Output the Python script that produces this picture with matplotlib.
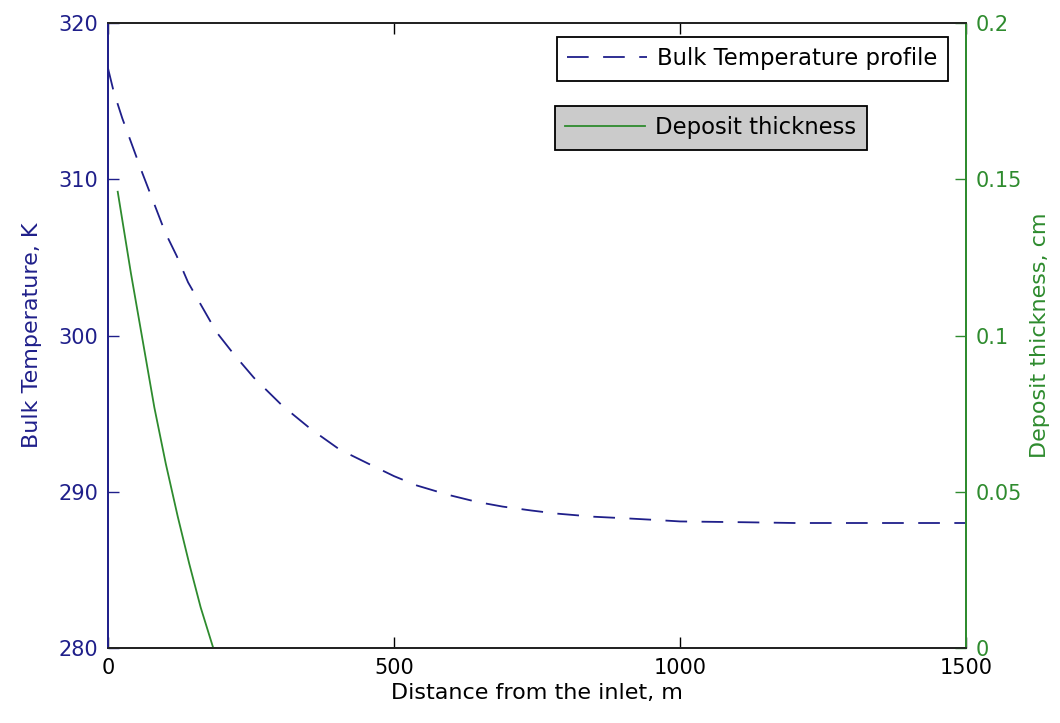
import numpy as np
import matplotlib.pyplot as plt
from matplotlib.lines import Line2D

plt.rcParams['font.family'] = ['DejaVu Sans']

# Bulk temperature along the line (K)
dist_T = [0, 10, 25, 40, 60, 80, 100, 120, 140, 165, 190, 220, 255, 305,
          355, 405, 455, 500, 540, 595, 645, 690, 740, 785, 850, 905, 955,
          1000, 1110, 1200, 1350, 1500]
temp_K = [317.1, 315.6, 313.9, 312.4, 310.4, 308.5, 306.6, 305.1, 303.4,
          301.8, 300.2, 298.8, 297.3, 295.5, 294.0, 292.7, 291.8, 291.0,
          290.4, 289.8, 289.35, 289.05, 288.8, 288.6, 288.4, 288.3, 288.2,
          288.1, 288.05, 288.0, 288.0, 288.0]

# Wax deposit thickness (cm)
dist_d = [17, 40, 61, 81, 101, 122, 142, 162, 184]
thick_cm = [0.146, 0.120, 0.098, 0.077, 0.059, 0.042, 0.027, 0.013, 0.0]

blue = '#1f1f8a'
green = '#2e8b2e'
dash = (12, 8)

fig = plt.figure(figsize=(10.6, 7.23), dpi=100)
ax1 = fig.add_axes([108/1060, 75/723, 858/1060, 625/723])
ax2 = ax1.twinx()

ax1.plot(dist_T, temp_K, color=blue, lw=1.3, dashes=dash)
ax2.plot(dist_d, thick_cm, color=green, lw=1.3)

ax1.set_xlim(0, 1500)
ax1.set_ylim(280, 320)
ax2.set_ylim(0, 0.2)
ax1.set_xticks([0, 500, 1000, 1500])
ax1.set_yticks([280, 290, 300, 310, 320])
ax2.set_yticks([0, 0.05, 0.1, 0.15, 0.2])
ax2.set_yticklabels(['0', '0.05', '0.1', '0.15', '0.2'])

ax1.tick_params(axis='x', direction='in', length=8, width=1, top=True,
                labelsize=15, pad=7, colors='black')
ax1.tick_params(axis='y', direction='in', length=8, width=1,
                labelsize=15, pad=7, colors=blue)
ax2.tick_params(axis='y', direction='in', length=8, width=1,
                labelsize=15, pad=7, colors=green)

for a in (ax1, ax2):
    a.spines['left'].set_color(blue)
    a.spines['right'].set_color(green)
    a.spines['top'].set_color('#222222')
    a.spines['bottom'].set_color('#222222')
    for s in a.spines.values():
        s.set_linewidth(1.3)

ax1.set_xlabel('Distance from the inlet, m', fontsize=16, labelpad=4)
ax1.set_ylabel('Bulk Temperature, K', fontsize=16, color=blue, labelpad=12)
ax2.set_ylabel('Deposit thickness, cm', fontsize=16, color=green, labelpad=6)

# two separate legend boxes, as plotyy draws them
h1 = Line2D([], [], color=blue, lw=1.3, dashes=dash)
h2 = Line2D([], [], color=green, lw=1.3)
leg1 = fig.legend([h1], ['Bulk Temperature profile'], loc='upper left',
                  bbox_to_anchor=(557/1060, 1 - 37/723), fontsize=16.4,
                  fancybox=False, framealpha=1, edgecolor='black',
                  facecolor='white', handlelength=3.5, handletextpad=0.45,
                  borderpad=0.45, borderaxespad=0)
leg1.get_frame().set_linewidth(1.3)
leg2 = fig.legend([h2], ['Deposit thickness'], loc='upper left',
                  bbox_to_anchor=(555/1060, 1 - 106/723), fontsize=16.4,
                  fancybox=False, framealpha=1, edgecolor='black',
                  facecolor='#cbcbcb', handlelength=3.5, handletextpad=0.45,
                  borderpad=0.45, borderaxespad=0)
leg2.get_frame().set_linewidth(1.3)

plt.savefig('out.png', dpi=100)
